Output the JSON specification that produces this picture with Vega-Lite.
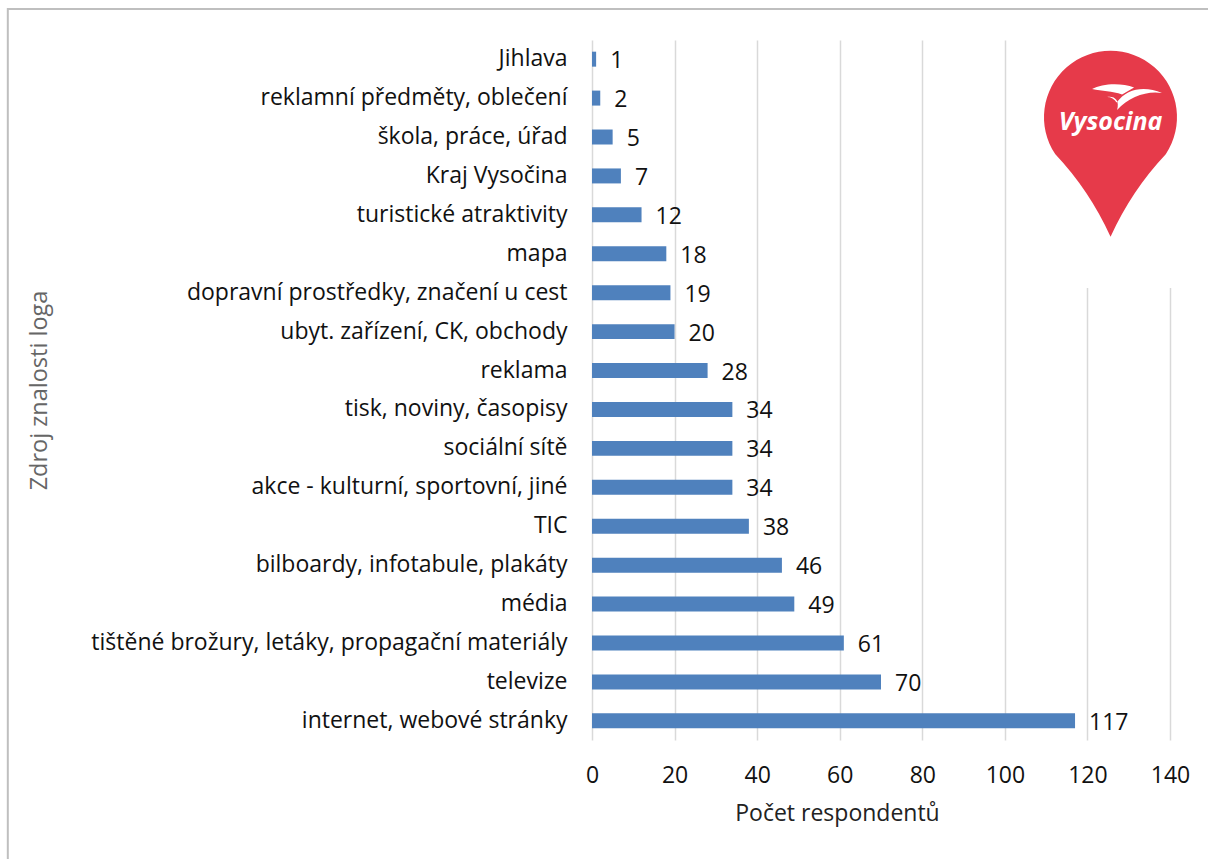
{
  "$schema": "https://vega.github.io/schema/vega-lite/v6.json",
  "autosize": {"type": "none"},
  "width": 578,
  "height": 700,
  "padding": {"left": 592, "top": 40, "right": 38, "bottom": 119},
  "background": "white",
  "config": {
    "view": {"stroke": null},
    "font": "Open Sans"
  },
  "datasets": {
    "sources": [
      {"source": "Jihlava", "count": 1},
      {"source": "reklamní předměty, oblečení", "count": 2},
      {"source": "škola, práce, úřad", "count": 5},
      {"source": "Kraj Vysočina", "count": 7},
      {"source": "turistické atraktivity", "count": 12},
      {"source": "mapa", "count": 18},
      {"source": "dopravní prostředky, značení u cest", "count": 19},
      {"source": "ubyt. zařízení, CK, obchody", "count": 20},
      {"source": "reklama", "count": 28},
      {"source": "tisk, noviny, časopisy", "count": 34},
      {"source": "sociální sítě", "count": 34},
      {"source": "akce - kulturní, sportovní, jiné", "count": 34},
      {"source": "TIC", "count": 38},
      {"source": "bilboardy, infotabule, plakáty", "count": 46},
      {"source": "média", "count": 49},
      {"source": "tištěné brožury, letáky, propagační materiály", "count": 61},
      {"source": "televize", "count": 70},
      {"source": "internet, webové stránky", "count": 117}
    ],
    "one": [{"item": "logo"}]
  },
  "resolve": {"scale": {"y": "independent"}, "axis": {"y": "independent"}},
  "layer": [
    {
      "data": {"name": "sources"},
      "encoding": {
        "y": {
          "field": "source",
          "type": "nominal",
          "sort": null,
          "scale": {"paddingInner": 0.615, "paddingOuter": 0.3},
          "axis": {
            "title": "Zdroj znalosti loga",
            "titleFontSize": 23.5,
            "titleFontWeight": "normal",
            "titleColor": "#666666",
            "titleX": -553,
            "titleY": 350,
            "titleAlign": "center",
            "titleBaseline": "middle",
            "titleAngle": -90,
            "domain": false,
            "ticks": false,
            "labelFontSize": 23,
            "labelColor": "#111111",
            "labelPadding": 25,
            "labelLimit": 700
          }
        }
      },
      "layer": [
        {
          "mark": {"type": "bar", "color": "#4F81BD"},
          "encoding": {
            "x": {
              "field": "count",
              "type": "quantitative",
              "scale": {"domain": [0, 140], "nice": false},
              "axis": {
                "values": [0, 20, 40, 60, 80, 100, 120, 140],
                "title": "Počet respondentů",
                "titleFontSize": 23,
                "titleFontWeight": "normal",
                "titleColor": "#222222",
                "titleX": 245,
                "titleY": 73,
                "titleAlign": "center",
                "titleBaseline": "middle",
                "grid": true,
                "gridColor": "#D9D9D9",
                "gridWidth": 1.5,
                "domain": false,
                "ticks": false,
                "labelFontSize": 23,
                "labelColor": "#111111",
                "labelBaseline": "middle",
                "labelFlush": false,
                "labelOverlap": false,
                "labelPadding": 35
              }
            }
          }
        },
        {
          "mark": {"type": "text", "align": "left", "baseline": "middle", "dx": 14, "dy": 2, "fontSize": 23, "color": "#111111"},
          "encoding": {
            "x": {"field": "count", "type": "quantitative", "scale": {"domain": [0, 140], "nice": false}},
            "text": {"field": "count", "type": "quantitative"}
          }
        }
      ]
    },
    {
      "data": {"name": "one"},
      "mark": {"type": "rect", "fill": "transparent", "stroke": "#BFBFBF", "strokeWidth": 2},
      "encoding": {
        "x": {"datum": -141.5, "type": "quantitative", "scale": {"domain": [0, 140], "nice": false}},
        "x2": {"datum": 175},
        "y": {"datum": -31, "type": "quantitative", "scale": {"domain": [0, 700], "reverse": true, "nice": false, "zero": false}, "axis": null},
        "y2": {"datum": 880}
      }
    },
    {
      "data": {"name": "one"},
      "mark": {"type": "rect", "fill": "white"},
      "encoding": {
        "x": {"datum": 105, "type": "quantitative", "scale": {"domain": [0, 140], "nice": false}},
        "x2": {"datum": 146},
        "y": {"datum": -2, "type": "quantitative", "scale": {"domain": [0, 700], "reverse": true, "nice": false, "zero": false}, "axis": null},
        "y2": {"datum": 248}
      }
    },
    {
      "data": {"name": "one"},
      "mark": {
        "type": "point",
        "filled": true,
        "opacity": 1,
        "fill": "#E63A4A",
        "strokeWidth": 0,
        "size": 17689,
        "shape": "M0,1.8 Q-0.32,1.1 -0.83,0.56 A1,1 0 1 1 0.83,0.56 Q0.32,1.1 0,1.8 Z"
      },
      "encoding": {
        "x": {"datum": 125.6, "type": "quantitative", "scale": {"domain": [0, 140], "nice": false}},
        "y": {"datum": 77, "type": "quantitative", "scale": {"domain": [0, 700], "reverse": true, "nice": false, "zero": false}, "axis": null}
      }
    },
    {
      "data": {"name": "one"},
      "mark": {
        "type": "point",
        "filled": true,
        "opacity": 1,
        "fill": "white",
        "strokeWidth": 0,
        "size": 400,
        "shape": "M-3.5,-0.8 C-2.5,-1.35 -0.6,-1.45 0.7,-0.95 L-0.5,-0.25 C-1.5,-0.6 -2.5,-0.6 -3.5,-0.8 Z M-2,0 C-1.3,-0.15 -0.7,0.3 -1,1.3 C0.2,-0.05 2,-0.65 3.5,-0.4 C1.8,-1.15 0,-0.9 -1.05,0.55 C-1.25,0.2 -1.6,0 -2,0 Z"
      },
      "encoding": {
        "x": {"datum": 129.6, "type": "quantitative", "scale": {"domain": [0, 140], "nice": false}},
        "y": {"datum": 57, "type": "quantitative", "scale": {"domain": [0, 700], "reverse": true, "nice": false, "zero": false}, "axis": null}
      }
    },
    {
      "data": {"name": "one"},
      "mark": {
        "type": "text",
        "text": "Vysocina",
        "font": "Open Sans",
        "fontStyle": "italic",
        "fontWeight": "bold",
        "fontSize": 25,
        "color": "white",
        "align": "center",
        "baseline": "middle"
      },
      "encoding": {
        "x": {"datum": 125.6, "type": "quantitative", "scale": {"domain": [0, 140], "nice": false}},
        "y": {"datum": 82, "type": "quantitative", "scale": {"domain": [0, 700], "reverse": true, "nice": false, "zero": false}, "axis": null}
      }
    }
  ]
}
